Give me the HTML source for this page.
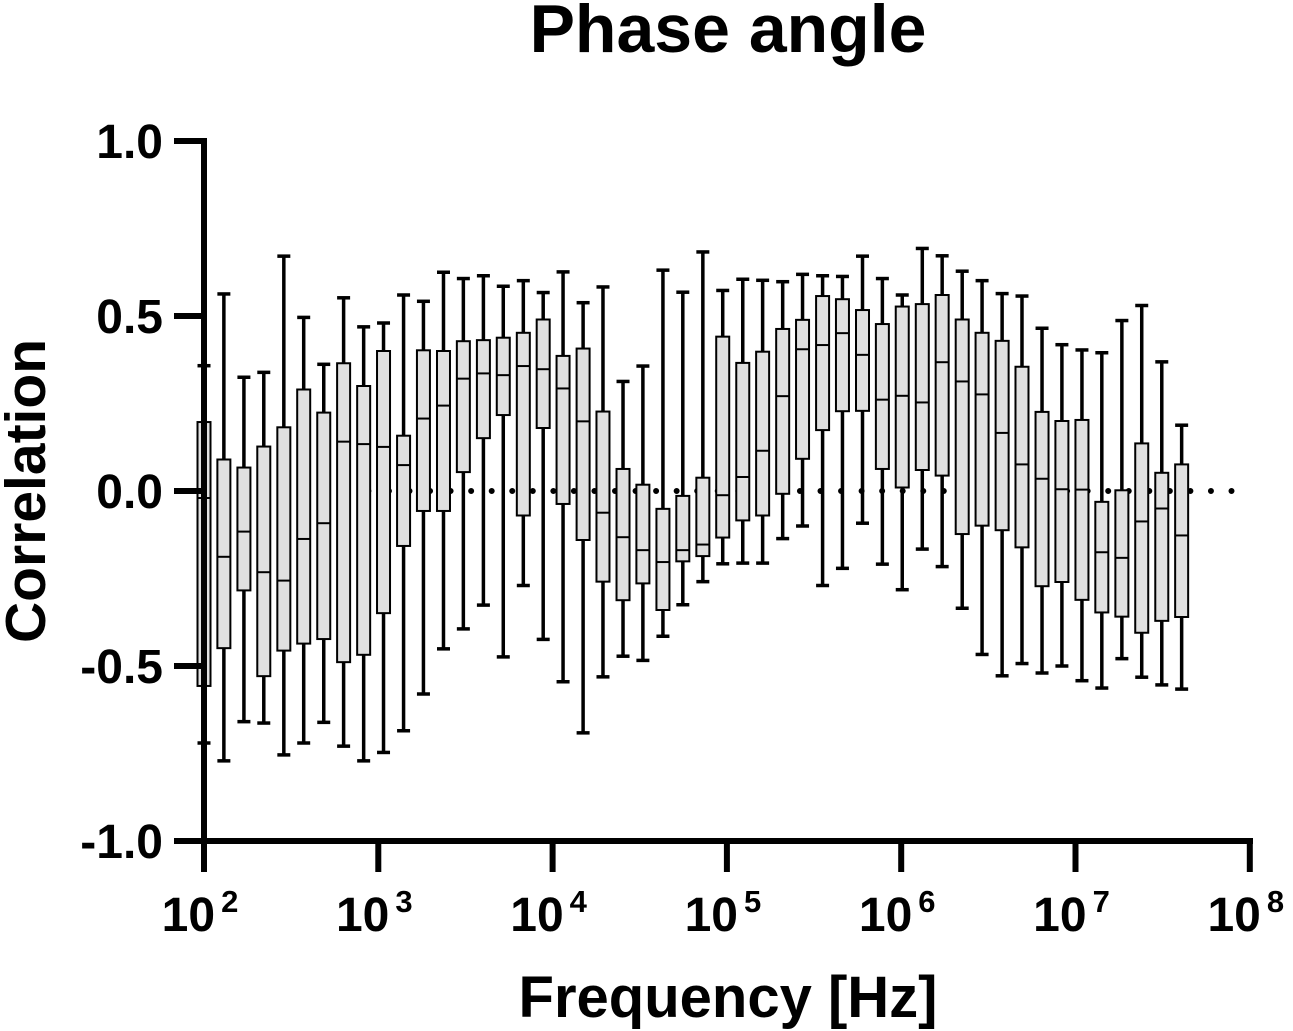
<!DOCTYPE html>
<html><head><meta charset="utf-8"><style>
body{margin:0;background:#fff;}
svg{display:block;font-family:"Liberation Sans",Arial,sans-serif;font-weight:bold;}
</style></head><body>
<svg id="chart" width="1293" height="1031" viewBox="0 0 1293 1031" xmlns="http://www.w3.org/2000/svg">
<text x="728" y="52" text-anchor="middle" font-size="68">Phase angle</text>
<text x="728" y="1017" text-anchor="middle" font-size="58">Frequency [Hz]</text>
<text transform="translate(45,491) rotate(-90)" text-anchor="middle" font-size="57">Correlation</text>
<g id="zero"></g>
<g id="boxes"></g>
<g id="axes"></g>
</svg>
<script>
const logFreq=[2.000,2.114,2.229,2.343,2.458,2.572,2.687,2.801,2.916,3.030,3.145,3.259,3.374,3.488,3.603,3.717,3.832,3.946,4.060,4.175,4.289,4.404,4.518,4.633,4.747,4.862,4.976,5.091,5.205,5.320,5.434,5.549,5.663,5.778,5.892,6.006,6.121,6.235,6.350,6.464,6.579,6.693,6.808,6.922,7.037,7.151,7.266,7.380,7.495,7.609];
const whiskerHigh=[0.358,0.563,0.325,0.339,0.671,0.496,0.362,0.552,0.469,0.48,0.56,0.542,0.625,0.607,0.615,0.585,0.601,0.567,0.626,0.538,0.583,0.313,0.357,0.631,0.568,0.683,0.573,0.605,0.602,0.598,0.619,0.615,0.613,0.671,0.607,0.56,0.693,0.672,0.628,0.601,0.564,0.557,0.465,0.418,0.403,0.395,0.487,0.53,0.369,0.188];
const q3=[0.197,0.09,0.067,0.127,0.182,0.29,0.224,0.365,0.3,0.4,0.158,0.402,0.4,0.428,0.431,0.438,0.452,0.49,0.386,0.407,0.227,0.063,0.018,-0.051,-0.014,0.038,0.441,0.366,0.398,0.463,0.489,0.557,0.548,0.517,0.477,0.527,0.534,0.56,0.49,0.452,0.429,0.355,0.226,0.2,0.203,-0.031,0.002,0.136,0.052,0.076];
const median=[-0.02,-0.188,-0.116,-0.232,-0.256,-0.137,-0.092,0.141,0.134,0.126,0.074,0.207,0.244,0.321,0.336,0.331,0.357,0.348,0.293,0.199,-0.062,-0.132,-0.169,-0.203,-0.169,-0.153,-0.012,0.04,0.115,0.271,0.405,0.417,0.451,0.389,0.261,0.272,0.253,0.368,0.313,0.276,0.166,0.076,0.035,0.005,0.004,-0.175,-0.191,-0.087,-0.05,-0.127];
const q1=[-0.557,-0.449,-0.284,-0.529,-0.456,-0.436,-0.423,-0.489,-0.468,-0.349,-0.157,-0.057,-0.057,0.054,0.151,0.217,-0.07,0.18,-0.037,-0.14,-0.259,-0.312,-0.264,-0.34,-0.201,-0.186,-0.133,-0.084,-0.07,-0.008,0.092,0.174,0.228,0.229,0.063,0.01,0.06,0.044,-0.123,-0.099,-0.112,-0.161,-0.272,-0.26,-0.311,-0.347,-0.359,-0.405,-0.371,-0.36];
const whiskerLow=[-0.72,-0.771,-0.659,-0.663,-0.754,-0.72,-0.661,-0.729,-0.771,-0.747,-0.685,-0.58,-0.451,-0.394,-0.326,-0.474,-0.27,-0.424,-0.545,-0.691,-0.531,-0.472,-0.484,-0.415,-0.325,-0.259,-0.208,-0.206,-0.206,-0.136,-0.1,-0.27,-0.221,-0.092,-0.209,-0.282,-0.166,-0.216,-0.335,-0.467,-0.528,-0.493,-0.52,-0.5,-0.542,-0.563,-0.479,-0.532,-0.554,-0.566];
const yTicks=[1.0,0.5,0.0,-0.5,-1.0];
const yTickLabels=["1.0","0.5","0.0","-0.5","-1.0"];
const xTicks=[2,3,4,5,6,7,8];

const NS="http://www.w3.org/2000/svg";
function X(lf){return 204+(lf-2)*174.3;}
function Y(v){return 491-v*350;}
function mk(tag,attrs,parent){const e=document.createElementNS(NS,tag);for(const k in attrs)e.setAttribute(k,attrs[k]);parent.appendChild(e);return e;}

const zero=document.getElementById('zero');
const dl=mk('line',{x1:X(2),x2:1232,y1:Y(0),y2:Y(0),stroke:'#000','stroke-width':6,'stroke-linecap':'round','stroke-dasharray':'0 20.55'},zero);



const boxes=document.getElementById('boxes');
const hw=6.5;
for(let i=0;i<logFreq.length;i++){
  const x=X(logFreq[i]);
  const g=mk('g',{},boxes);
  
  
  mk('line',{x1:x,x2:x,y1:Y(whiskerHigh[i]),y2:Y(q3[i]),stroke:'#000','stroke-width':3.5},g);
  mk('line',{x1:x,x2:x,y1:Y(q1[i]),y2:Y(whiskerLow[i]),stroke:'#000','stroke-width':3.5},g);
  mk('line',{x1:x-hw,x2:x+hw,y1:Y(whiskerHigh[i]),y2:Y(whiskerHigh[i]),stroke:'#000','stroke-width':3.5},g);
  mk('line',{x1:x-hw,x2:x+hw,y1:Y(whiskerLow[i]),y2:Y(whiskerLow[i]),stroke:'#000','stroke-width':3.5},g);
  mk('rect',{x:x-hw,y:Y(q3[i]),width:2*hw,height:Y(q1[i])-Y(q3[i]),fill:'#e0e0e0',stroke:'#000','stroke-width':2},g);
  mk('line',{x1:x-hw,x2:x+hw,y1:Y(median[i]),y2:Y(median[i]),stroke:'#000','stroke-width':2},g);
}

const axes=document.getElementById('axes');
const ya=mk('line',{x1:204,x2:204,y1:Y(1)-3,y2:Y(-1)+3,stroke:'#000','stroke-width':6},axes);


const xa=mk('line',{x1:201,x2:1253,y1:Y(-1),y2:Y(-1),stroke:'#000','stroke-width':6},axes);


for(let j=0;j<yTicks.length;j++){
  const y=Y(yTicks[j]);
  const t=mk('line',{x1:174,x2:204,y1:y,y2:y,stroke:'#000','stroke-width':6},axes);
  
  
  const l=mk('text',{x:163,y:y+17,'text-anchor':'end','font-size':48},axes);
  l.textContent=yTickLabels[j];
  
  
}
for(let j=0;j<xTicks.length;j++){
  const x=X(xTicks[j]);
  const t=mk('line',{x1:x,x2:x,y1:Y(-1),y2:872,stroke:'#000','stroke-width':6},axes);
  
  
  const l=mk('text',{x:x-4,y:931,'text-anchor':'middle','font-size':48},axes);
  
  
  const a=mk('tspan',{},l);a.textContent='10';
  const b=mk('tspan',{dx:6,dy:-19,'font-size':31},l);b.textContent=String(xTicks[j]);
}
</script>
</body></html>
